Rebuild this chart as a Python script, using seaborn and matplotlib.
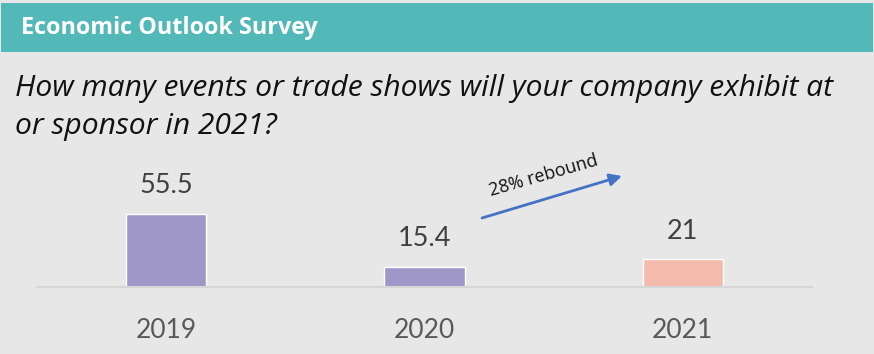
import matplotlib
matplotlib.use("Agg")
import matplotlib.pyplot as plt
import seaborn as sns
import pandas as pd

years = ["2019", "2020", "2021"]
values = [55.5, 15.4, 21]
value_labels = ["55.5", "15.4", "21"]
bar_colors = ["#9f97c8", "#9f97c8", "#f4baab"]
header_title = "Economic Outlook Survey"
question_lines = ["How many events or trade shows will your company exhibit at",
                  "or sponsor in 2021?"]
arrow_label = "28% rebound"

sns.set_theme(style="white")
plt.rcParams['font.family'] = ['Lato', 'DejaVu Sans']

W, H = 874, 354
fig = plt.figure(figsize=(W / 100, H / 100), dpi=100)
bg = "#e7e7e7"
fig.patch.set_facecolor(bg)

def fx(px):
    return px / W

def fy(py):
    return 1 - py / H

# header band
hdr = fig.add_axes([fx(1), fy(52), fx(873) - fx(1), fy(3) - fy(52)])
hdr.set_facecolor("#52b8b8")
hdr.set_xticks([]); hdr.set_yticks([])
for s in hdr.spines.values():
    s.set_visible(False)
fig.text(fx(21), fy(34), header_title, color="white", fontsize=16.8,
         fontweight="bold", va="baseline", ha="left", family=["Open Sans", "DejaVu Sans"])

for line, base_y in zip(question_lines, [96, 134]):
    fig.text(fx(15), fy(base_y), line, fontsize=21.6, style="italic",
             color="#111111", va="baseline", ha="left",
             family=["Open Sans", "DejaVu Sans"])

# main bar axes
left, right, base = 37, 812, 287
ax_h_px = 131.5
ax = fig.add_axes([fx(left), fy(base), fx(right) - fx(left), ax_h_px / H])
ax.set_facecolor(bg)
df = pd.DataFrame({"year": years, "value": values})
sns.barplot(data=df, x="year", y="value", hue="year", palette=bar_colors,
            width=0.31, legend=False, ax=ax, saturation=1)
ax.set_xlim(-0.5, 2.5)
ax.set_ylim(0, 100)
ax.set_yticks([])
ax.set_xlabel(""); ax.set_ylabel("")
for s in ["top", "left", "right"]:
    ax.spines[s].set_visible(False)
ax.spines["bottom"].set_color("#d6d6d6")
ax.spines["bottom"].set_linewidth(1.5)
ax.tick_params(axis="x", length=0, pad=22, labelsize=19, labelcolor="#595959")
ax.patch.set_alpha(0)

for i, (v, lab) in enumerate(zip(values, value_labels)):
    ax.annotate(lab, (i, v), xytext=(0, 15), textcoords="offset points",
                ha="center", va="baseline", fontsize=19.5, color="#404040")

# arrow annotation
ax.annotate("", xy=(fx(622), fy(176)), xycoords="figure fraction",
            xytext=(fx(482), fy(218)), textcoords="figure fraction",
            arrowprops=dict(arrowstyle="-|>", color="#4472c4", lw=2,
                            mutation_scale=18, shrinkA=0, shrinkB=0))
fig.text(fx(544), fy(176), arrow_label, rotation=16, fontsize=13,
         color="#111111", ha="center", va="center", rotation_mode="anchor",
         family=["Open Sans", "DejaVu Sans"])

fig.savefig("out.png", dpi=100, facecolor=bg)
